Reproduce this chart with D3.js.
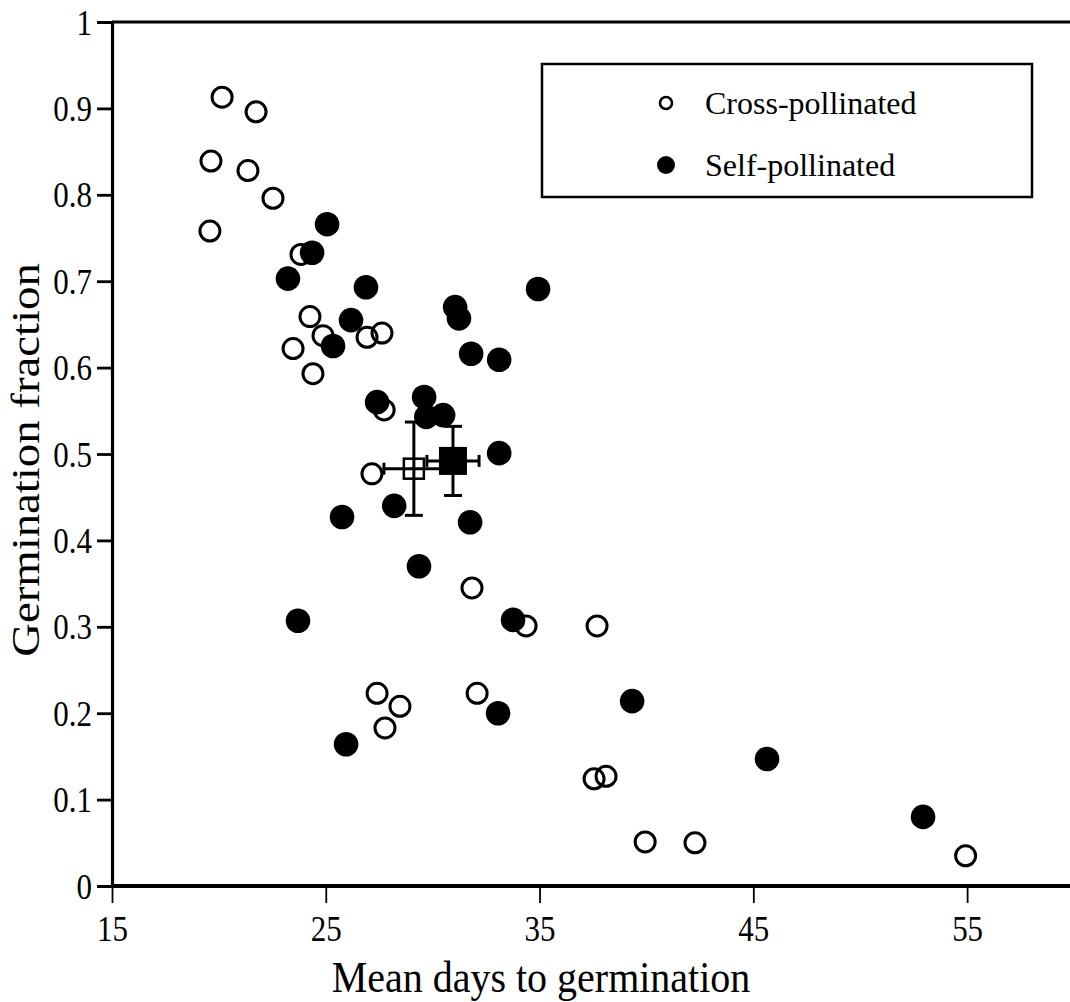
<!DOCTYPE html>
<html>
<head>
<meta charset="utf-8">
<script src="https://cdn.jsdelivr.net/npm/d3@7"></script>
<style>
  html, body { margin: 0; padding: 0; background: #fff; }
  svg { display: block; }
  text { font-family: "Liberation Serif", "Times New Roman", serif; fill: #000; }
</style>
</head>
<body>
<svg id="chart" width="1070" height="1002"></svg>
<script>
// Cross-pollinated (open circles): mean days, germination fraction
const crossDays = [20.15, 21.74, 19.63, 21.36, 22.53, 19.58, 23.84, 24.26, 23.47, 24.87, 24.40, 26.93, 27.63, 27.73, 27.16, 31.84, 34.37, 37.69, 27.40, 28.47, 27.77, 32.08, 37.55, 38.11, 39.94, 42.27, 54.93];
const crossFrac = [0.913, 0.896, 0.839, 0.828, 0.796, 0.758, 0.731, 0.659, 0.622, 0.637, 0.593, 0.635, 0.640, 0.551, 0.477, 0.345, 0.301, 0.301, 0.223, 0.208, 0.183, 0.223, 0.124, 0.127, 0.051, 0.050, 0.035];

// Self-pollinated (filled circles)
const selfDays = [25.06, 24.36, 23.23, 26.88, 26.18, 25.34, 31.05, 31.23, 34.93, 31.80, 33.11, 27.40, 29.60, 29.70, 30.49, 33.11, 25.76, 28.20, 31.75, 29.36, 23.70, 33.76, 33.06, 25.95, 39.33, 45.64, 52.94];
const selfFrac = [0.766, 0.733, 0.703, 0.693, 0.655, 0.625, 0.670, 0.657, 0.691, 0.616, 0.609, 0.560, 0.566, 0.543, 0.545, 0.501, 0.427, 0.440, 0.421, 0.370, 0.307, 0.308, 0.200, 0.164, 0.214, 0.147, 0.080];

// Group means with error bars
const meanGroups = ["Cross-pollinated", "Self-pollinated"];
const meanDays = [29.12, 30.95];
const meanDaysErr = [1.40, 1.22];
const meanFrac = [0.483, 0.492];
const meanFracErr = [0.054, 0.040];

const xTicks = [15, 25, 35, 45, 55];
const yTicks = [0, 0.1, 0.2, 0.3, 0.4, 0.5, 0.6, 0.7, 0.8, 0.9, 1];
const yTickLabels = ["0", "0.1", "0.2", "0.3", "0.4", "0.5", "0.6", "0.7", "0.8", "0.9", "1"];
const legendLabels = ["Cross-pollinated", "Self-pollinated"];

const FONT = '"Liberation Serif", "Times New Roman", serif';
const svg = d3.select("#chart");
const x = d3.scaleLinear().domain([15, 60]).range([112, 1074]);
const y = d3.scaleLinear().domain([0, 1]).range([886, 22]);

// Top frame line
svg.append("line")
  .attr("x1", x(15)).attr("x2", 1070)
  .attr("y1", y(1)).attr("y2", y(1))
  .attr("stroke", "#000").attr("stroke-width", 3);

// Y axis
const yAxis = d3.axisLeft(y).tickValues(yTicks)
  .tickFormat((d, i) => yTickLabels[i]).tickSize(15).tickPadding(5);
const gy = svg.append("g").attr("transform", `translate(${x(15)},0)`).call(yAxis)
  .attr("font-family", FONT).attr("font-size", 31);
gy.select(".domain").attr("stroke-width", 3.2);
gy.selectAll(".tick line").attr("stroke-width", 2.8);
gy.selectAll(".tick text").attr("dy", "0.34em").attr("transform", "scale(1,1.15)");

// X axis
const xAxis = d3.axisBottom(x).tickValues(xTicks).tickSize(17).tickPadding(9);
const gx = svg.append("g").attr("transform", `translate(0,${y(0)})`).call(xAxis)
  .attr("font-family", FONT).attr("font-size", 31);
gx.select(".domain").attr("stroke-width", 4).attr("d", `M${x(15)},0H1070`);
gx.selectAll(".tick line").attr("stroke-width", 1.8);
gx.selectAll(".tick text").attr("transform", "scale(1,1.15)");

// Axis titles
svg.append("text")
  .attr("transform", "translate(541,992) scale(1,1.1)")
  .attr("text-anchor", "middle")
  .attr("font-family", FONT)
  .attr("font-size", 40)
  .text("Mean days to germination");

svg.append("text")
  .attr("transform", `translate(39,460) rotate(-90) scale(1.17,1)`)
  .attr("text-anchor", "middle")
  .attr("font-family", FONT)
  .attr("font-size", 40)
  .text("Germination fraction");

// Open circles
svg.append("g").selectAll("circle")
  .data(crossDays.map((d, i) => [d, crossFrac[i]]))
  .join("circle")
  .attr("cx", d => x(d[0])).attr("cy", d => y(d[1]))
  .attr("r", 10)
  .attr("fill", "none").attr("stroke", "#000").attr("stroke-width", 3);

// Filled circles
svg.append("g").selectAll("circle")
  .data(selfDays.map((d, i) => [d, selfFrac[i]]))
  .join("circle")
  .attr("cx", d => x(d[0])).attr("cy", d => y(d[1]))
  .attr("r", 12.3)
  .attr("fill", "#000");

// Error bars for means
const eb = svg.append("g").attr("stroke", "#000").attr("stroke-width", 3);
meanGroups.forEach((g, i) => {
  const cx = x(meanDays[i]), cy = y(meanFrac[i]);
  const x0 = x(meanDays[i] - meanDaysErr[i]), x1 = x(meanDays[i] + meanDaysErr[i]);
  const y0 = y(meanFrac[i] - meanFracErr[i]), y1 = y(meanFrac[i] + meanFracErr[i]);
  eb.append("line").attr("x1", x0).attr("x2", x1).attr("y1", cy).attr("y2", cy);
  eb.append("line").attr("x1", cx).attr("x2", cx).attr("y1", y0).attr("y2", y1);
  eb.append("line").attr("x1", x0).attr("x2", x0).attr("y1", cy - 6).attr("y2", cy + 6);
  eb.append("line").attr("x1", x1).attr("x2", x1).attr("y1", cy - 6).attr("y2", cy + 6);
  eb.append("line").attr("x1", cx - 9).attr("x2", cx + 9).attr("y1", y0).attr("y2", y0);
  eb.append("line").attr("x1", cx - 9).attr("x2", cx + 9).attr("y1", y1).attr("y2", y1);
});
// Mean squares
svg.append("rect")
  .attr("x", x(meanDays[0]) - 10).attr("y", y(meanFrac[0]) - 10)
  .attr("width", 20).attr("height", 20)
  .attr("fill", "none").attr("stroke", "#000").attr("stroke-width", 2.5);
svg.append("rect")
  .attr("x", x(meanDays[1]) - 14).attr("y", y(meanFrac[1]) - 14)
  .attr("width", 28).attr("height", 28)
  .attr("fill", "#000");

// Legend
const lg = svg.append("g");
lg.append("rect")
  .attr("x", 542).attr("y", 64).attr("width", 490).attr("height", 133)
  .attr("fill", "#fff").attr("stroke", "#000").attr("stroke-width", 2.5);
lg.append("circle").attr("cx", 666).attr("cy", 103).attr("r", 6)
  .attr("fill", "none").attr("stroke", "#000").attr("stroke-width", 2.5);
lg.append("circle").attr("cx", 666).attr("cy", 165).attr("r", 9).attr("fill", "#000");
lg.append("text").attr("x", 705).attr("y", 103).attr("dy", "0.34em")
  .attr("font-family", FONT).attr("font-size", 32).text(legendLabels[0]);
lg.append("text").attr("x", 705).attr("y", 165).attr("dy", "0.34em")
  .attr("font-family", FONT).attr("font-size", 32).text(legendLabels[1]);
</script>
</body>
</html>
